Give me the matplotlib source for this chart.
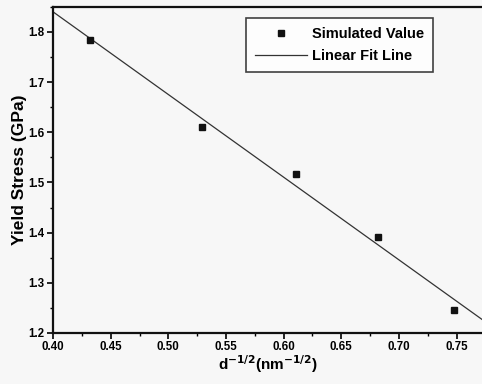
import numpy as np
import matplotlib
matplotlib.use("Agg")
import matplotlib.pyplot as plt
from matplotlib.ticker import MultipleLocator

# d^-1/2 values and simulated yield stress
d_inv_sqrt = [0.432, 0.529, 0.611, 0.682, 0.7475]
yield_stress = [1.785, 1.611, 1.517, 1.391, 1.246]
x_ticks = [0.40, 0.45, 0.50, 0.55, 0.60, 0.65, 0.70, 0.75]
y_ticks = [1.2, 1.3, 1.4, 1.5, 1.6, 1.7, 1.8]

plt.rcParams["font.family"] = ["Liberation Sans", "DejaVu Sans"]
plt.rcParams["font.weight"] = "bold"

bg = "#f7f7f7"
fig = plt.figure(figsize=(4.82, 3.84), dpi=100, facecolor=bg)
ax = fig.add_axes([0.110, 0.133, 0.890, 0.849], facecolor=bg)

slope, icept = np.polyfit(d_inv_sqrt, yield_stress, 1)
xfit = np.array([0.40, 0.772])
ax.plot(xfit, slope * xfit + icept, color="#333333", lw=0.9, label="Linear Fit Line")
ax.plot(d_inv_sqrt, yield_stress, "s", color="#111111", ms=4, ls="none",
        label="Simulated Value")

ax.set_xlim(0.40, 0.772)
ax.set_ylim(1.2, 1.85)
ax.set_xticks(x_ticks)
ax.set_xticklabels([f"{v:.2f}" for v in x_ticks])
ax.set_yticks(y_ticks)
ax.set_yticklabels([f"{v:.1f}" for v in y_ticks])
ax.xaxis.set_minor_locator(MultipleLocator(0.025))
ax.yaxis.set_minor_locator(MultipleLocator(0.05))
ax.tick_params(which="major", direction="out", length=4, width=1.2, labelsize=8.3,
               pad=2)
ax.tick_params(which="minor", direction="out", length=2, width=1.0)
for s in ["left", "bottom", "top"]:
    ax.spines[s].set_linewidth(1.6)
    ax.spines[s].set_color("#111111")
ax.spines["right"].set_visible(False)

ax.set_xlabel("d$^{-1/2}$(nm$^{-1/2}$)", fontsize=11, fontweight="bold", labelpad=0)
ax.set_ylabel("Yield Stress (GPa)", fontsize=12.5, fontweight="bold", labelpad=1)

handles, labels = ax.get_legend_handles_labels()
leg = ax.legend(handles[::-1], labels[::-1], loc="upper left",
                bbox_to_anchor=(0.45, 0.966), fontsize=10.5, frameon=True,
                fancybox=False, edgecolor="#111111", facecolor="white",
                handlelength=3.6, borderpad=0.6, labelspacing=0.6,
                handletextpad=0.3, borderaxespad=0)
leg.get_frame().set_linewidth(1.2)

fig.savefig("out.png", dpi=100, facecolor=bg)
